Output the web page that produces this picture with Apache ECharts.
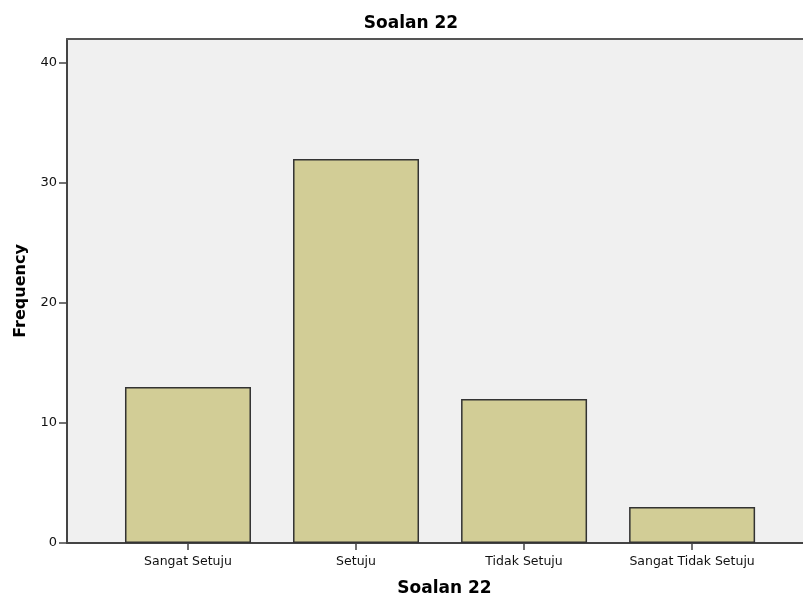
<!DOCTYPE html>
<html>
<head>
<meta charset="utf-8">
<script src="https://cdn.jsdelivr.net/npm/echarts@6/dist/echarts.min.js"></script>
<style>
  html, body { margin: 0; padding: 0; background: #ffffff; }
  #chart { width: 803px; height: 596px; }
</style>
</head>
<body>
<div id="chart"></div>
<script>
// data
const categories = ['Sangat Setuju', 'Setuju', 'Tidak Setuju', 'Sangat Tidak Setuju'];
const frequency = [13, 32, 12, 3];
const yTicks = [0, 10, 20, 30, 40];

const chart = echarts.init(document.getElementById('chart'));
const font = 'DejaVu Sans, sans-serif';

chart.setOption({
  animation: false,
  title: {
    text: 'Soalan 22',
    left: 406,
    textAlign: 'center',
    top: 10,
    textStyle: { fontFamily: font, fontSize: 17, fontWeight: 'bold', color: '#000' }
  },
  grid: {
    left: 67, top: 39, right: 0, bottom: 53,
    outerBoundsMode: 'none',
    containLabel: false,
    show: true, backgroundColor: '#f0f0f0', borderWidth: 0
  },
  xAxis: [{
    type: 'value',
    min: -0.72, max: 3.66,
    name: 'Soalan 22',
    nameLocation: 'middle',
    nameGap: 37,
    nameTextStyle: { fontFamily: font, fontSize: 17, fontWeight: 'bold', color: '#000', padding: [0, 0, 0, 19] },
    splitLine: { show: false },
    axisLine: { show: true, onZero: false, lineStyle: { color: '#444', width: 2 } },
    axisTick: { show: true, length: 7, lineStyle: { color: '#444', width: 1.5 }, customValues: [0, 1, 2, 3] },
    axisLabel: {
      customValues: [0, 1, 2, 3],
      formatter: v => categories[Math.round(v)] || '',
      fontFamily: font, fontSize: 12.5, color: '#111', margin: 12
    }
  }, {
    type: 'value', position: 'top', min: -0.72, max: 3.66,
    splitLine: { show: false },
    axisLine: { show: true, onZero: false, lineStyle: { color: '#555', width: 2 } },
    axisTick: { show: false }, axisLabel: { show: false }
  }],
  yAxis: {
    type: 'value',
    min: 0, max: 42,
    name: 'Frequency',
    nameLocation: 'middle',
    nameGap: 38,
    nameRotate: 90,
    nameTextStyle: { fontFamily: font, fontSize: 16, fontWeight: 'bold', color: '#000' },
    splitLine: { show: false },
    axisLine: { show: true, onZero: false, lineStyle: { color: '#444', width: 2 } },
    axisTick: { show: true, length: 8, lineStyle: { color: '#444', width: 1.5 }, customValues: yTicks },
    axisLabel: { customValues: yTicks, fontFamily: font, fontSize: 13, color: '#111', margin: 10 }
  },
  series: [{
    type: 'bar',
    barWidth: 126,
    data: frequency.map((v, i) => [i, v]),
    itemStyle: { color: '#d2cd96', borderColor: '#333', borderWidth: 1.5 }
  }]
});
</script>
</body>
</html>
